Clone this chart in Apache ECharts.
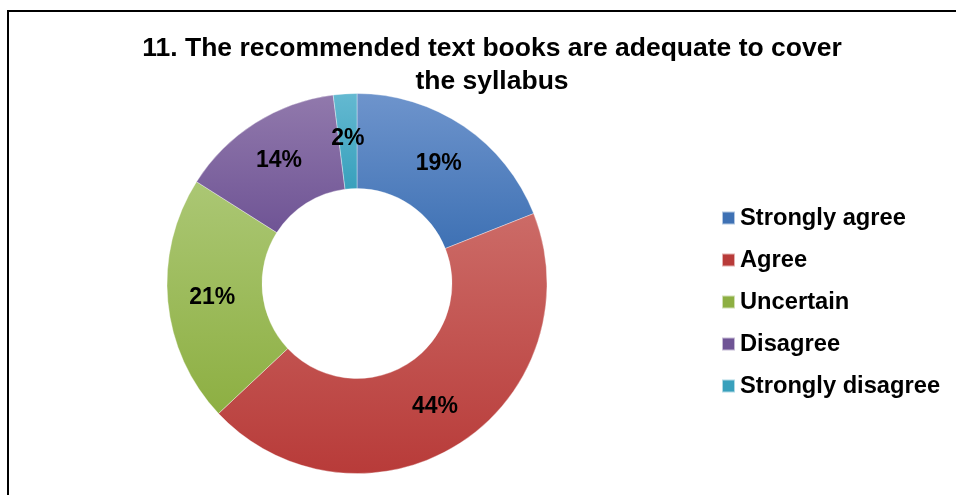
<!DOCTYPE html>
<html>
<head>
<meta charset="utf-8">
<script src="https://cdn.jsdelivr.net/npm/echarts@6/dist/echarts.min.js"></script>
<style>
  html, body { margin: 0; padding: 0; background: #fff; }
  #chart { width: 956px; height: 495px; }
</style>
</head>
<body>
<div id="chart"></div>
<script>
// Survey responses (percent of respondents)
const titleText = '11. The recommended text books are adequate to cover\nthe syllabus';
const categories = ['Strongly agree', 'Agree', 'Uncertain', 'Disagree', 'Strongly disagree'];
const values = [19, 44, 21, 14, 2];
// top / bottom shade of each slice
const topColors = ['#6e94cc', '#cc6b67', '#abc774', '#9179ac', '#64b9d1'];
const bottomColors = ['#3e71b4', '#b83b39', '#8daf42', '#6f5495', '#38a0bc'];

const FONT = '"Liberation Sans", Arial, sans-serif';

const chart = echarts.init(document.getElementById('chart'), null, { renderer: 'canvas' });

const data = categories.map((name, i) => ({
  name,
  value: values[i],
  itemStyle: {
    color: new echarts.graphic.LinearGradient(0, 0, 0, 1, [
      { offset: 0, color: topColors[i] },
      { offset: 1, color: bottomColors[i] }
    ])
  }
}));

chart.setOption({
  backgroundColor: '#ffffff',
  animation: false,
  title: {
    text: titleText,
    left: 487,
    textAlign: 'center',
    top: 27,
    textStyle: {
      fontFamily: FONT,
      fontWeight: 'bold',
      fontSize: 26.5,
      lineHeight: 33,
      color: '#000'
    }
  },
  legend: {
    orient: 'vertical',
    left: 716,
    top: 201,
    itemWidth: 13,
    itemHeight: 13,
    itemGap: 18,
    icon: 'rect',
    data: categories.map((name, i) => ({ name, itemStyle: { color: bottomColors[i] } })),
    textStyle: {
      fontFamily: FONT,
      fontWeight: 'bold',
      fontSize: 23.7,
      lineHeight: 24,
      color: '#000'
    }
  },
  graphic: [{
    type: 'rect',
    shape: { x: 8, y: 11, width: 980, height: 520 },
    style: { fill: 'none', stroke: '#000', lineWidth: 2 },
    silent: true,
    z: 10
  }],
  series: [{
    type: 'pie',
    center: [357, 283.5],
    radius: [95, 190],
    startAngle: 90,
    clockwise: true,
    avoidLabelOverlap: false,
    itemStyle: { borderColor: 'rgba(255,255,255,0.6)', borderWidth: 0.6 },
    label: {
      show: true,
      position: 'inside',
      formatter: p => p.value + '%',
      fontFamily: FONT,
      fontWeight: 'bold',
      fontSize: 23,
      color: '#000'
    },
    labelLine: { show: false },
    emphasis: { disabled: true },
    data
  }]
});
</script>
</body>
</html>
